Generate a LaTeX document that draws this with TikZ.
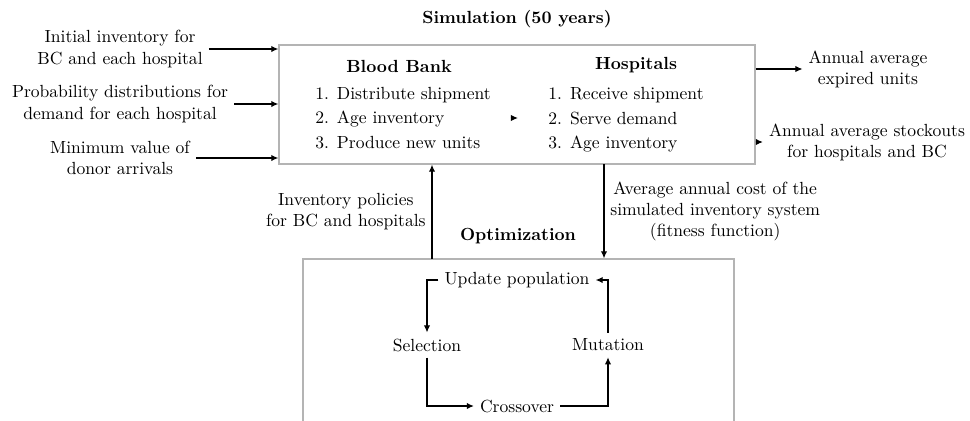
\documentclass[tikz,border=0pt]{standalone}
\usetikzlibrary{arrows.meta,positioning,calc,fit}
\definecolor{framegray}{HTML}{B4B4B4}
\newcommand{\itm}[1]{#1.\hspace{0.45em}}
\tikzset{frame/.style={draw=framegray,line width=0.8pt,inner sep=0pt},
  flow/.style={-{Latex[length=4pt,width=3.6pt]},semithick},
  txt/.style={align=center},
  head/.style={font=\bfseries},
  steps/.style={align=left}}

\begin{document}
\begin{tikzpicture}[x=0.02cm,y=-0.02cm]
\clip (0,0) rectangle (970,420);
% simulation block
\node[frame,fit={(279,45) (755,164)}] (sim) {};
\node[head] (simtitle) at (517,19) {Simulation (50 years)};
\node[head] (bbhead) at (399,66) {Blood Bank};
\node[head] (hoshead) at (636,65) {Hospitals};
\node[steps] (bblist) at (403,118) {\itm1Distribute shipment\\[2pt]\itm2Age inventory\\[2pt]\itm3Produce new units};
\node[steps] (hoslist) at (626,120) {\itm1Receive shipment\\[2pt]\itm2Serve demand\\[2pt]\itm3Age inventory};
\draw[flow,shorten <=13\pgflinewidth] (bblist.east) -- ++(21,0);
% inputs and outputs
\foreach \y/\t [count=\i] in {49/{Initial inventory for\\BC and each hospital},
  104/{Probability distributions for\\demand for each hospital},
  158/{Minimum value of\\donor arrivals}} {
  \node[txt] (in\i) at (120,\y) {\t};
  \draw[flow] (in\i.east) -- (in\i.east -| sim.west);}
\node[txt] (out1) at (868,69) {Annual average\\expired units};
\node[txt] (out2) at (867,142) {Annual average stockouts\\for hospitals and BC};
\draw[flow] (sim.east |- out1.west) -- (out1.west);
\draw[flow] (sim.east |- out2.west) -- (out2.west);
% optimization block
\node[frame,fit={(303,259) (734,440)}] (opt) {};
\node[head] (opthead) at (518,236) {Optimization};
\coordinate (polbase) at (432,259);
\coordinate (costtop) at (604,164);
\draw[flow] (polbase) -- (polbase |- sim.south)
  node[midway,left,txt] {Inventory policies\\for BC and hospitals};
\draw[flow] (costtop) -- (costtop |- opt.north)
  node[midway,right,txt] {Average annual cost of the\\simulated inventory system\\(fitness function)};
\node (up) at (517,280) {Update population};
\node (sel) at (427,345) {Selection};
\node (mut) at (608,345) {Mutation};
\node (cross) at (517,406) {Crossover};
\draw[flow] (up.west) -| (sel.north);
\draw[flow] (sel.south) |- (cross.west);
\draw[flow] (cross.east) -| (mut.south);
\draw[flow] (mut.north) |- (up.east);
\end{tikzpicture}
\end{document}
